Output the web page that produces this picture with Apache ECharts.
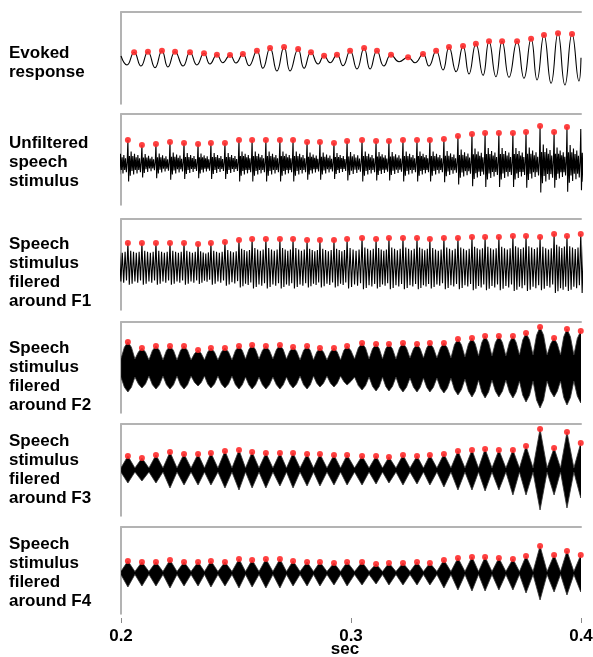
<!DOCTYPE html>
<html>
<head>
<meta charset="utf-8" />
<title>Speech stimulus and evoked response</title>
<style>
  html, body { margin: 0; padding: 0; background: #fff; }
  #main { width: 593px; height: 657px; }
</style>
</head>
<body>
<div id="main"></div>
<script src="https://cdn.jsdelivr.net/npm/echarts@6/dist/echarts.min.js"></script>
<script>
  "use strict";

  // time in ms, amplitudes in arbitrary units
  var evokedPeakT = [205.7, 211.7, 217.8, 223.5, 230.0, 236.1, 241.7, 247.4, 253.0, 259.1, 264.8, 270.9, 277.0, 282.6, 288.3, 293.9, 299.6,
    305.7, 311.3, 317.4, 324.8, 331.3, 337.0, 342.6, 348.7, 354.3, 360.0, 365.7, 372.2, 378.3, 383.9, 390.0, 396.1];
  var evokedPeakA = [5.7, 6.3, 7.3, 6.3, 5.7, 4.7, 3.3, 3, 4, 7.3, 10, 11, 9, 5.7, 2.3, 3.3, 7.3,
    10, 7.3, 3.3, 0.7, 4, 7.3, 11, 12, 14.3, 16.7, 16.7, 16.7, 19.3, 23, 24.7, 24];
  var evokedTroughT = [202.6, 208.7, 214.8, 220.4, 227.0, 233.0, 238.7, 244.3, 250.0, 255.7, 261.7, 267.8, 273.5, 279.6, 285.7, 290.9, 296.5,
    302.6, 308.3, 314.3, 320.9, 327.8, 333.9, 340.0, 345.7, 351.3, 357.4, 363.0, 368.7, 375.2, 380.9, 387.0, 393.0, 399.1];
  var evokedTroughA = [-7, -8, -9.7, -9, -8, -7, -6, -4.7, -5, -7.7, -10.3, -13, -13, -10.3, -6, -4.7, -7.7,
    -11, -11, -8, -3.7, -4.7, -8, -12, -13.7, -16, -17.3, -18.7, -19.3, -20.3, -22, -25.3, -27, -23];
  var evokedEnds = [[200, 2], [400, 0.3]];

  // pitch-period peaks of the stimulus
  var stimPeakT = [203.0, 209.1, 215.2, 221.3, 227.4, 233.5, 239.1, 245.2, 251.3, 257.0, 263.0, 269.1, 274.8, 280.9, 286.5, 292.6, 298.3,
    304.8, 310.9, 316.5, 322.6, 328.7, 334.3, 340.4, 346.5, 352.6, 358.3, 364.3, 370.4, 376.1, 382.2, 388.3, 393.9, 399.9];
  var unfPeakA = [23, 18, 19, 21, 20, 19, 20, 20, 23, 23, 23, 23, 23, 21, 21, 20, 22,
    23, 22, 22, 23, 23, 23, 24, 27, 29, 30, 30, 30, 31, 37, 31, 36, 34];
  var f1PeakA = [22, 22, 22, 22, 22, 21, 22, 23, 25, 26, 26, 26, 26, 25, 25, 25, 26,
    27, 26, 27, 27, 27, 26, 27, 27, 28, 28, 28, 29, 29, 28, 31, 29, 31];
  var f2Upper = [26, 20, 22, 22, 22, 18, 20, 20, 22, 23, 22, 23, 21, 22, 20, 20, 22,
    25, 24, 24, 25, 24, 25, 25, 29, 30, 32, 32, 32, 35, 41, 30, 39, 37];
  var f2Lower = [24, 20, 21, 21, 21, 18, 20, 20, 21, 21, 21, 21, 20, 21, 19, 19, 17,
    22, 23, 23, 24, 24, 24, 25, 27, 29, 30, 29, 30, 34, 40, 29, 37, 35];
  var f2Waist = [9, 8, 8, 8, 8, 8, 8, 8, 9, 9, 9, 9, 8, 8, 8, 8, 9,
    9, 9, 9, 10, 10, 10, 10, 11, 12, 12, 12, 13, 13, 13, 13, 13, 13];
  var f2Shoulder = 0.8;
  var f3Upper = [14, 12, 15, 18, 16, 16, 17, 19, 20, 18, 17, 17, 17, 16, 16, 15, 15,
    14, 14, 13, 15, 14, 15, 16, 19, 20, 21, 20, 20, 24, 41, 22, 38, 27];
  var f3Lower = [13, 11, 13, 18, 15, 15, 15, 18, 20, 18, 18, 16, 18, 16, 16, 15, 15,
    15, 14, 13, 15, 14, 15, 17, 20, 20, 21, 20, 25, 25, 40, 25, 38, 28];
  var f3Waist = 2;
  var f4Upper = [12, 11, 11, 13, 11, 11, 12, 11, 14, 13, 14, 14, 12, 11, 11, 10, 11,
    11, 9, 10, 10, 11, 10, 13, 15, 16, 16, 15, 14, 17, 27, 18, 22, 18];
  var f4Lower = [14, 13, 13, 15, 13, 13, 14, 13, 15, 14, 15, 15, 13, 13, 13, 12, 13,
    12, 11, 12, 12, 12, 12, 15, 17, 18, 18, 17, 17, 20, 27, 19, 22, 19];
  var f4Waist = 1.5;

  // one period's shape, [fraction of period, fraction of peak]
  var unfShape = [[0, 1], [0.05, -0.8], [0.11, 0.3], [0.17, -0.55], [0.23, 0.5], [0.29, -0.35], [0.35, 0.3], [0.41, -0.5],
    [0.47, 0.4], [0.53, -0.3], [0.59, 0.25], [0.65, -0.45], [0.71, 0.35], [0.77, -0.3], [0.83, 0.2], [0.89, -0.4], [0.95, 0.05]];
  var f1Shape = [[0, 1], [0.1, -0.9], [0.2, 0.65], [0.3, -0.85], [0.4, 0.6], [0.5, -0.75], [0.6, 0.55], [0.7, -0.8], [0.8, 0.6], [0.9, -0.7]];

  var labels = ['Evoked\nresponse', 'Unfiltered\nspeech\nstimulus', 'Speech\nstimulus\nfilered\naround F1',
    'Speech\nstimulus\nfilered\naround F2', 'Speech\nstimulus\nfilered\naround F3', 'Speech\nstimulus\nfilered\naround F4'];

  var panels = [
    { top: 12, height: 92, min: -46, max: 46, label: 44 },
    { top: 114, height: 91, min: -42, max: 49, label: 134 },
    { top: 219, height: 91, min: -45, max: 46, label: 235 },
    { top: 322, height: 91, min: -45, max: 46, label: 339 },
    { top: 424, height: 92, min: -46, max: 46, label: 432 },
    { top: 527, height: 87, min: -41, max: 46, label: 535 }
  ];

  function zip(a, b) {
    return a.map(function (v, i) { return [v, b[i]]; });
  }

  function evokedLine() {
    var pts = zip(evokedPeakT, evokedPeakA).concat(zip(evokedTroughT, evokedTroughA)).concat(evokedEnds);
    pts.sort(function (p, q) { return p[0] - q[0]; });
    return pts;
  }

  function periodic(peaks, amps, shape) {
    var pts = [];
    var n = peaks.length;
    for (var i = -1; i < n; i++) {
      var t0 = i < 0 ? peaks[0] - (peaks[1] - peaks[0]) : peaks[i];
      var t1 = i + 1 < n ? peaks[i + 1] : peaks[i] + (peaks[i] - peaks[i - 1]);
      var a = amps[Math.max(i, 0)];
      shape.forEach(function (s) {
        pts.push([t0 + s[0] * (t1 - t0), s[1] * a]);
      });
    }
    return pts;
  }

  // outline of a filled band: tips at the peaks, narrow waist between them
  function envelope(peaks, up, lo, waist, shoulder) {
    var n = peaks.length;
    var upper = [], lower = [];
    var w = function (i) { return typeof waist === 'number' ? waist : waist[i]; };
    var period = function (i) { return i + 1 < n ? peaks[i + 1] - peaks[i] : peaks[i] - peaks[i - 1]; };
    var start = peaks[0] - period(0) / 2;
    upper.push([start, w(0)]);
    lower.push([start, -w(0)]);
    for (var i = 0; i < n; i++) {
      var p = period(i);
      var prevP = i > 0 ? period(i - 1) : p;
      if (shoulder) {
        upper.push([peaks[i] - prevP / 4, up[i] * shoulder]);
        lower.push([peaks[i] - prevP / 4, -lo[i] * shoulder]);
      }
      upper.push([peaks[i], up[i]]);
      lower.push([peaks[i], -lo[i]]);
      if (shoulder) {
        upper.push([peaks[i] + p / 4, up[i] * shoulder]);
        lower.push([peaks[i] + p / 4, -lo[i] * shoulder]);
      }
      upper.push([peaks[i] + p / 2, w(i)]);
      lower.push([peaks[i] + p / 2, -w(i)]);
    }
    return upper.concat(lower.reverse());
  }

  var chart = echarts.init(document.getElementById('main'));

  var grids = [], xAxes = [], yAxes = [], graphics = [];
  panels.forEach(function (p, k) {
    grids.push({ left: 121, width: 460, top: p.top, height: p.height, containLabel: false, outerBoundsMode: 'none' });
    xAxes.push({
      gridIndex: k, type: 'value', min: 200, max: 400, position: 'top',
      axisLine: { show: true, onZero: false, lineStyle: { color: '#b3b3b3', width: 2 } },
      axisTick: { show: false }, axisLabel: { show: false }, splitLine: { show: false }
    });
    yAxes.push({
      gridIndex: k, type: 'value', min: p.min, max: p.max,
      axisLine: { show: true, onZero: false, lineStyle: { color: '#9a9a9a', width: 1.5 } },
      axisTick: { show: false }, axisLabel: { show: false }, splitLine: { show: false }
    });
    graphics.push({
      type: 'text', left: 9, top: p.label,
      style: { text: labels[k], font: 'bold 17px "Liberation Sans", Arial, sans-serif', lineHeight: 19, fill: '#000' }
    });
  });

  // time axis under the last panel
  xAxes.push({
    gridIndex: 5, type: 'value', min: 200, max: 400, interval: 100, position: 'bottom', offset: 4,
    axisLine: { show: false, onZero: false },
    axisTick: { show: true, length: 5, lineStyle: { color: '#888' } },
    axisLabel: {
      margin: 10, color: '#000', fontWeight: 'bold', fontSize: 17, fontFamily: 'Liberation Sans',
      formatter: function (v) { return String(v / 1000); }
    },
    splitLine: { show: false },
    name: 'sec', nameLocation: 'middle', nameGap: 23, nameMoveOverlap: false,
    nameTextStyle: { color: '#000', fontWeight: 'bold', fontSize: 17, fontFamily: 'Liberation Sans', padding: [0, 12, 0, 0] }
  });

  function waveLine(k, data, smooth) {
    return {
      type: 'line', xAxisIndex: k, yAxisIndex: k, data: data, smooth: smooth,
      showSymbol: false, silent: true, lineStyle: { color: '#000', width: 1.1 }, z: 2
    };
  }

  function dots(k, t, a) {
    return {
      type: 'scatter', xAxisIndex: k, yAxisIndex: k, data: zip(t, a), symbolSize: 6, silent: true,
      itemStyle: { color: '#ff2b2b', opacity: 0.9 }, z: 5
    };
  }

  function band(k, poly) {
    return {
      type: 'custom', xAxisIndex: k, yAxisIndex: k, data: [[200, 0]], silent: true, z: 2,
      renderItem: function (params, api) {
        var cs = params.coordSys;
        return {
          type: 'polygon',
          shape: { points: poly.map(function (p) { return api.coord(p); }) },
          style: { fill: '#000', stroke: '#333', lineWidth: 0.8 },
          clipPath: { type: 'rect', shape: { x: cs.x, y: cs.y, width: cs.width, height: cs.height } }
        };
      }
    };
  }

  var series = [
    waveLine(0, evokedLine(), 0.5),
    dots(0, evokedPeakT, evokedPeakA),
    waveLine(1, periodic(stimPeakT, unfPeakA, unfShape), false),
    dots(1, stimPeakT.slice(0, 33), unfPeakA.slice(0, 33)),
    waveLine(2, periodic(stimPeakT, f1PeakA, f1Shape), false),
    dots(2, stimPeakT, f1PeakA),
    band(3, envelope(stimPeakT, f2Upper, f2Lower, f2Waist, f2Shoulder)),
    dots(3, stimPeakT, f2Upper),
    band(4, envelope(stimPeakT, f3Upper, f3Lower, f3Waist)),
    dots(4, stimPeakT, f3Upper),
    band(5, envelope(stimPeakT, f4Upper, f4Lower, f4Waist)),
    dots(5, stimPeakT, f4Upper)
  ];

  chart.setOption({
    animation: false,
    grid: grids,
    xAxis: xAxes,
    yAxis: yAxes,
    series: series,
    graphic: graphics
  });
</script>
</body>
</html>
